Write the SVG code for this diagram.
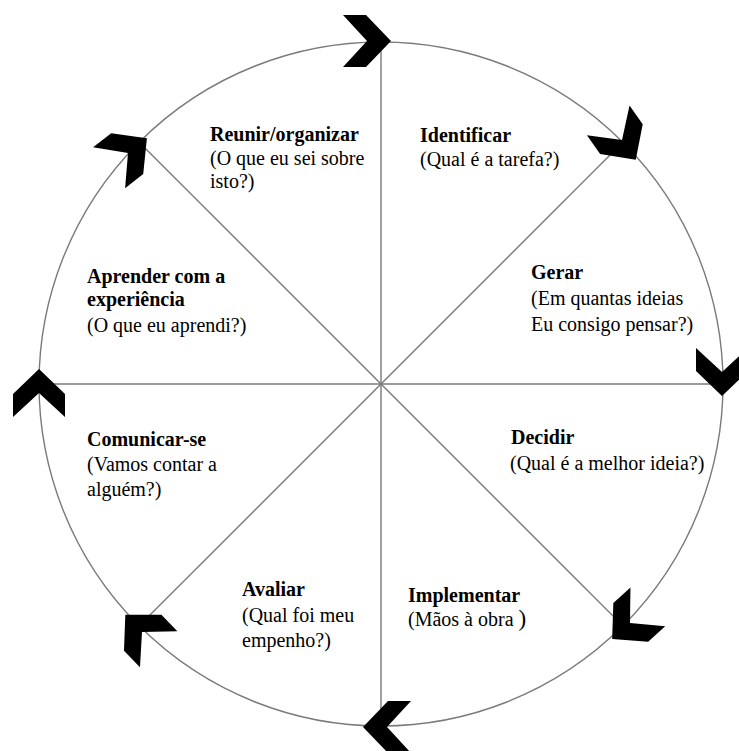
<svg xmlns="http://www.w3.org/2000/svg" width="739" height="751" viewBox="0 0 739 751">
<style>
.ln{stroke:#7a7a7a;stroke-width:1.4;fill:none}
.t{font-family:'Liberation Serif','Times New Roman',serif;font-size:20px;fill:#000}
.b{font-weight:bold}
.chev{fill:#000}
</style>
<defs>
<path id="chev" class="chev" d="M24,0 L-1,-26 L-24,-26 L0,0 L-24,26 L-1,26 Z"/>
</defs>
<rect width="739" height="751" fill="#fff"/>
<g id="connectors">
<circle class="ln" cx="381" cy="384" r="342"/>
<line class="ln" x1="381" y1="42" x2="381" y2="726"/>
<line class="ln" x1="39" y1="384" x2="723" y2="384"/>
<line class="ln" x1="139.2" y1="142.2" x2="622.8" y2="625.8"/>
<line class="ln" x1="622.8" y1="142.2" x2="139.2" y2="625.8"/>
</g>
<g id="arrows">
<use href="#chev" transform="translate(367,41) rotate(0)"/>
<use href="#chev" transform="translate(622,140) rotate(55)"/>
<use href="#chev" transform="translate(722,372) rotate(90)"/>
<use href="#chev" transform="translate(630,623) rotate(138)"/>
<use href="#chev" transform="translate(387,727) rotate(180)"/>
<use href="#chev" transform="translate(142,632) rotate(226)"/>
<use href="#chev" transform="translate(39,393) rotate(270)"/>
<use href="#chev" transform="translate(128,153) rotate(322)"/>
</g>
<g font-family="Liberation Serif, Times New Roman, serif" font-size="20">
<g id="reunir">
<text class="t b" x="210" y="141">Reunir/organizar</text>
<text class="t" x="210" y="165">(O que eu sei sobre</text>
<text class="t" x="210" y="188">isto?)</text>
</g>
<g id="identificar">
<text class="t b" x="420" y="142">Identificar</text>
<text class="t" x="420" y="166">(Qual é a tarefa?)</text>
</g>
<g id="gerar">
<text class="t b" x="531" y="279">Gerar</text>
<text class="t" x="531" y="305">(Em quantas ideias</text>
<text class="t" x="531" y="331">Eu consigo pensar?)</text>
</g>
<g id="decidir">
<text class="t b" x="511" y="444">Decidir</text>
<text class="t" x="510" y="470">(Qual é a melhor ideia?)</text>
</g>
<g id="implementar">
<text class="t b" x="408" y="602">Implementar</text>
<text class="t" x="408" y="626">(Mãos à obra <tspan font-size="23">)</tspan></text>
</g>
<g id="avaliar">
<text class="t b" x="242" y="596">Avaliar</text>
<text class="t" x="242" y="622">(Qual foi meu</text>
<text class="t" x="242" y="647">empenho?)</text>
</g>
<g id="comunicar">
<text class="t b" x="87" y="446">Comunicar-se</text>
<text class="t" x="87" y="471">(Vamos contar a</text>
<text class="t" x="87" y="496">alguém?)</text>
</g>
<g id="aprender">
<text class="t b" x="87" y="283">Aprender com a</text>
<text class="t b" x="87" y="306">experiência</text>
<text class="t" x="87" y="332">(O que eu aprendi?)</text>
</g>
</g>
</svg>
